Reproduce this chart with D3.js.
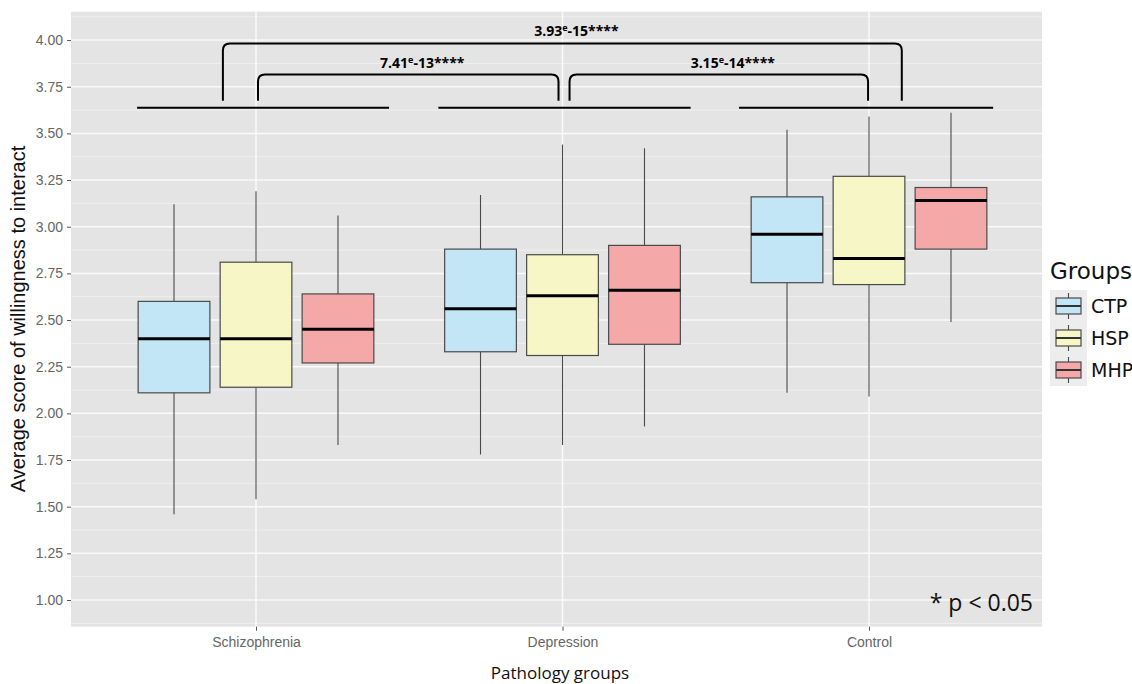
<!DOCTYPE html>
<html>
<head>
<meta charset="utf-8">
<script src="https://cdn.jsdelivr.net/npm/d3@7"></script>
<style>
  body { margin: 0; background: #fff; }
  svg { display: block; }
</style>
</head>
<body>
<div id="chart"></div>
<script>
//Data

const categories = ["Schizophrenia", "Depression", "Control"];
const groups = ["CTP", "HSP", "MHP"];

// [lower whisker, Q1, median, Q3, upper whisker] per category
const ctpStats = [[1.46, 2.11, 2.40, 2.60, 3.12], [1.78, 2.33, 2.56, 2.88, 3.17], [2.11, 2.70, 2.96, 3.16, 3.52]];
const hspStats = [[1.54, 2.14, 2.40, 2.81, 3.19], [1.83, 2.31, 2.63, 2.85, 3.44], [2.09, 2.69, 2.83, 3.27, 3.59]];
const mhpStats = [[1.83, 2.27, 2.45, 2.64, 3.06], [1.93, 2.37, 2.66, 2.90, 3.42], [2.49, 2.88, 3.14, 3.21, 3.61]];

const yTicks = [1.00, 1.25, 1.50, 1.75, 2.00, 2.25, 2.50, 2.75, 3.00, 3.25, 3.50, 3.75, 4.00];

// significance annotation: value levels and p-value labels
const groupLineLevel = 3.637;
const bracketLegLevel = 3.675;
const comparisons = [
  {from: "Schizophrenia", to: "Control", top: 3.982, base: "3.93", exp: "-15****"},
  {from: "Schizophrenia", to: "Depression", top: 3.815, base: "7.41", exp: "-13****"},
  {from: "Depression", to: "Control", top: 3.815, base: "3.15", exp: "-14****"}
];

const colors = {CTP: "#c3e6f6", HSP: "#f7f6c6", MHP: "#f5a8a8"};

//Dimensions

const width = 1132, height = 684;
const panel = {left: 71, right: 1042, top: 11.7, bottom: 626.7};

const svg = d3.select("#chart").append("svg")
  .attr("width", width)
  .attr("height", height);

//Scales

const x = d3.scalePoint()
  .domain(categories)
  .range([256, 869]);
const step = x.step();

const y = d3.scaleLinear()
  .domain([0.857, 4.152])
  .range([panel.bottom, panel.top]);

const dodge = 0.2675 * step;
const boxW = 0.234 * step;

//Panel + grid

svg.append("rect")
  .attr("x", panel.left).attr("y", panel.top)
  .attr("width", panel.right - panel.left)
  .attr("height", panel.bottom - panel.top)
  .attr("fill", "#e4e4e4");

const minor = d3.range(0.875, 4.2, 0.25);
svg.append("g").selectAll("line").data(minor).join("line")
  .attr("x1", panel.left).attr("x2", panel.right)
  .attr("y1", d => y(d)).attr("y2", d => y(d))
  .attr("stroke", "#f2f2f2").attr("stroke-width", 0.8);

svg.append("g").selectAll("line").data(yTicks).join("line")
  .attr("x1", panel.left).attr("x2", panel.right)
  .attr("y1", d => y(d)).attr("y2", d => y(d))
  .attr("stroke", "#fafafa").attr("stroke-width", 1.5);

svg.append("g").selectAll("line").data(categories).join("line")
  .attr("x1", d => x(d)).attr("x2", d => x(d))
  .attr("y1", panel.top).attr("y2", panel.bottom)
  .attr("stroke", "#fafafa").attr("stroke-width", 1.5);

//Axes

const yAxis = svg.append("g")
  .attr("transform", `translate(${panel.left},0)`)
  .call(d3.axisLeft(y).tickValues(yTicks).tickFormat(d3.format(".2f")).tickSize(4).tickPadding(4));
yAxis.select(".domain").remove();
yAxis.selectAll("line").attr("stroke", "#555");
yAxis.selectAll("text")
  .attr("fill", "#666")
  .style("font", "14px 'Liberation Sans', Arial, sans-serif");

const xAxis = svg.append("g")
  .attr("transform", `translate(0,${panel.bottom})`)
  .call(d3.axisBottom(x).tickSize(4).tickPadding(6));
xAxis.select(".domain").remove();
xAxis.selectAll("line").attr("stroke", "#555");
xAxis.selectAll("text")
  .attr("fill", "#666")
  .style("font", "14px 'Liberation Sans', Arial, sans-serif");

svg.append("text")
  .attr("x", 560).attr("y", 679)
  .attr("text-anchor", "middle")
  .style("font", "17px 'Open Sans', sans-serif")
  .attr("fill", "#111")
  .text("Pathology groups");

svg.append("text")
  .attr("transform", "translate(25,319) rotate(-90)")
  .attr("text-anchor", "middle")
  .style("font", "20px 'Liberation Sans', Arial, sans-serif")
  .attr("fill", "#111")
  .text("Average score of willingness to interact");

//Boxplots

const series = [
  {group: "CTP", stats: ctpStats},
  {group: "HSP", stats: hspStats},
  {group: "MHP", stats: mhpStats}
];

series.forEach((s, gi) => {
  const g = svg.append("g");
  const boxes = categories.map((c, ci) => ({cat: c, st: s.stats[ci]}));
  const cx = d => x(d.cat) + (gi - 1) * dodge;

  g.selectAll(".whisk").data(boxes).join("line")
    .attr("x1", cx).attr("x2", cx)
    .attr("y1", d => y(d.st[0])).attr("y2", d => y(d.st[4]))
    .attr("stroke", "#4a4a4a").attr("stroke-width", 1.1);

  g.selectAll(".box").data(boxes).join("rect")
    .attr("x", d => cx(d) - boxW / 2)
    .attr("width", boxW)
    .attr("y", d => y(d.st[3]))
    .attr("height", d => y(d.st[1]) - y(d.st[3]))
    .attr("fill", colors[s.group])
    .attr("stroke", "#4a4a4a").attr("stroke-width", 1.2);

  g.selectAll(".med").data(boxes).join("line")
    .attr("x1", d => cx(d) - boxW / 2).attr("x2", d => cx(d) + boxW / 2)
    .attr("y1", d => y(d.st[2])).attr("y2", d => y(d.st[2]))
    .attr("stroke", "#000").attr("stroke-width", 3);
});

//Significance annotations

// horizontal group line extents (in category steps) per category
const lineOffsets = [[-0.388, 0.434], [-0.405, 0.418], [-0.424, 0.405]];

svg.append("g").selectAll("line").data(categories).join("line")
  .attr("x1", (d, i) => x(d) + lineOffsets[i][0] * step)
  .attr("x2", (d, i) => x(d) + lineOffsets[i][1] * step)
  .attr("y1", y(groupLineLevel)).attr("y2", y(groupLineLevel))
  .attr("stroke", "#000").attr("stroke-width", 2);

// leg offsets (in category steps) for each bracket end
const legOffsets = [[-0.108, 0.107], [0.0065, -0.013], [0.023, -0.003]];

comparisons.forEach((c, i) => {
  const x1 = x(c.from) + legOffsets[i][0] * step;
  const x2 = x(c.to) + legOffsets[i][1] * step;
  const yt = y(c.top), yb = y(bracketLegLevel);
  const r = 7;
  const p = d3.path();
  p.moveTo(x1, yb);
  p.lineTo(x1, yt + r);
  p.quadraticCurveTo(x1, yt, x1 + r, yt);
  p.lineTo(x2 - r, yt);
  p.quadraticCurveTo(x2, yt, x2, yt + r);
  p.lineTo(x2, yb);
  svg.append("path")
    .attr("d", p.toString())
    .attr("fill", "none")
    .attr("stroke", "#000").attr("stroke-width", 2);

  const t = svg.append("text")
    .attr("x", (x1 + x2) / 2 + 14)
    .attr("y", yt - 7)
    .attr("text-anchor", "middle")
    .style("font", "bold 14px 'Open Sans', sans-serif")
    .attr("fill", "#000");
  t.append("tspan").text(c.base);
  t.append("tspan").attr("dy", -5).style("font-size", "9px").text("e");
  t.append("tspan").attr("dy", 5).text(c.exp);
});

svg.append("text")
  .attr("x", 1033).attr("y", 611)
  .attr("text-anchor", "end")
  .style("font", "23px 'Open Sans', sans-serif")
  .attr("fill", "#111")
  .text("* p < 0.05");

//Legend

const legend = svg.append("g").attr("transform", "translate(1050,0)");

legend.append("text")
  .attr("x", 0).attr("y", 279)
  .style("font", "23px 'DejaVu Sans', Verdana, sans-serif")
  .attr("fill", "#111")
  .text("Groups");

legend.append("rect")
  .attr("x", 0).attr("y", 290)
  .attr("width", 37).attr("height", 96)
  .attr("fill", "#ededed");

const rows = legend.selectAll(".key").data(groups).join("g")
  .attr("transform", (d, i) => `translate(0,${306 + i * 32})`);

rows.append("line")
  .attr("x1", 18.5).attr("x2", 18.5).attr("y1", -13).attr("y2", 13)
  .attr("stroke", "#4a4a4a").attr("stroke-width", 1.1);
rows.append("rect")
  .attr("x", 6).attr("y", -8).attr("width", 25).attr("height", 16)
  .attr("fill", d => colors[d])
  .attr("stroke", "#4a4a4a").attr("stroke-width", 1.2);
rows.append("line")
  .attr("x1", 6).attr("x2", 31).attr("y1", 0).attr("y2", 0)
  .attr("stroke", "#333").attr("stroke-width", 2);
rows.append("text")
  .attr("x", 41).attr("y", 0).attr("dy", "0.36em")
  .style("font", "19px 'DejaVu Sans', Verdana, sans-serif")
  .attr("fill", "#111")
  .text(d => d);
</script>
</body>
</html>
